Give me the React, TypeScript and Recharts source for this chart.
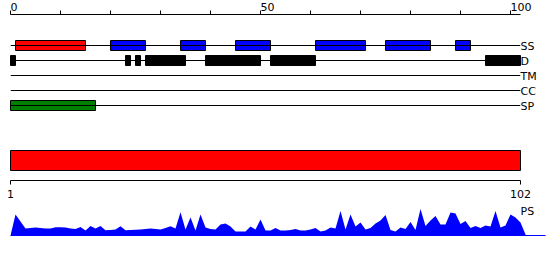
import React from 'react';
import {
  ComposedChart,
  AreaChart,
  Area,
  Scatter,
  XAxis,
  YAxis,
  ReferenceArea,
  ReferenceLine,
} from 'recharts';

// track names shown at the right end of each row
const TRACKS = ['SS', 'D', 'TM', 'CC', 'SP'];

// residue scale
const SEQ_LEN = 102;
const POS_TICKS = [0, 10, 20, 30, 40, 50, 60, 70, 80, 90, 100];
const SEQ_TICKS = [1, 102];

// segments as [start, end] in residues
const SS_HELIX = [[1, 15]];
const SS_STRAND = [[20, 27], [34, 39], [45, 52], [61, 71], [75, 84], [89, 92]];
const DISORDER = [[0, 1], [23, 24], [25, 26], [27, 35], [39, 50], [52, 61], [95, 102]];
const SIGNAL = [[0, 17]];
const SEQUENCE = [[0, 102]];

// PS profile, one value per position
const PS_VALUES = [
  0, 21, 14, 7, 7.5, 8, 7.5, 7, 7, 8.3,
  8.3, 8, 7, 6.5, 8.5, 5, 9.5, 7, 9.5, 5.3,
  5.5, 6, 9.3, 5.3, 5.5, 5.7, 6, 6.5, 7, 6.5,
  6, 7.5, 9.3, 7, 23.3, 6, 18, 5, 21, 8,
  6.5, 6, 11, 12, 9, 4, 4, 4, 9, 6,
  16, 5, 5, 7.5, 5, 5, 5.5, 6.5, 5, 5,
  6, 7.5, 4, 5, 8, 7, 24.5, 6, 21, 9,
  13, 6, 7.5, 12, 15, 20.5, 5.5, 4, 8, 6.5,
  13.5, 5.5, 26.5, 9.5, 15, 19.5, 11, 11, 23, 22,
  11.5, 14.5, 7.5, 9.5, 7.5, 10, 9, 24.5, 8, 10,
  21, 18, 13, 1,
];

const FONT = 'DejaVu Sans';
const psData = PS_VALUES.map((v, i) => ({ pos: i, ps: v }));
const SEQ_ROW = 23 / 3;

const TopTick = ({ x, y, payload }: any) =>
  payload.value % 50 === 0 ? (
    <text x={x} y={y} textAnchor="start" fontSize={11} fontFamily={FONT} fill="#000">
      {payload.value}
    </text>
  ) : (
    <g />
  );

const BottomTick = ({ x, y, payload }: any) => (
  <text x={x} y={y + 13.5} textAnchor="middle" fontSize={11} fontFamily={FONT} fill="#000">
    {payload.value}
  </text>
);

const RowTick = ({ x, y, payload }: any) => (
  <text x={x} y={y + 4.5} textAnchor="start" fontSize={11} fontFamily={FONT} fill="#000">
    {TRACKS[payload.value]}
  </text>
);

const NoShape = () => <g />;
const H = 1 / 3; // half box height in row units

function segs(list: number[][], row: number, fill: string, key: string, h = H) {
  return list.map(([a, b], i) => (
    <ReferenceArea
      key={`${key}-${i}`}
      xAxisId="top"
      yAxisId="rows"
      x1={a}
      x2={b}
      y1={row - h}
      y2={row + h}
      fill={fill}
      fillOpacity={1}
      stroke="#000"
      strokeWidth={1}
      ifOverflow="visible"
    />
  ));
}

export default function App() {
  return (
    <div style={{ position: 'absolute', left: 0, top: 0, width: 550, height: 260, background: '#fff' }}>
      <div style={{ position: 'absolute', left: 0, top: 0 }}>
        <ComposedChart width={550} height={200} margin={{ top: 0, right: 0, bottom: 0, left: 10.5 }}>
          <XAxis
            xAxisId="top"
            dataKey="x"
            orientation="top"
            type="number"
            domain={[0, SEQ_LEN]}
            ticks={POS_TICKS}
            interval={0}
            height={14.5}
            tickSize={4}
            tickMargin={0}
            tick={TopTick}
            stroke="#000"
            allowDataOverflow
          />
          <XAxis
            xAxisId="bot"
            dataKey="x"
            orientation="bottom"
            type="number"
            domain={[1, SEQ_LEN]}
            ticks={SEQ_TICKS}
            interval={0}
            height={19.5}
            tickSize={4}
            tickMargin={0}
            tick={BottomTick}
            stroke="#000"
            allowDataOverflow
          />
          <YAxis
            yAxisId="rows"
            dataKey="y"
            orientation="right"
            type="number"
            domain={[-31 / 15, 9]}
            reversed
            ticks={[0, 1, 2, 3, 4]}
            interval={0}
            width={29.5}
            axisLine={false}
            tickLine={false}
            tickSize={0}
            tickMargin={0}
            tick={RowTick}
            allowDataOverflow
          />
          {TRACKS.map((t, i) => (
            <Scatter
              key={t}
              xAxisId="top"
              yAxisId="rows"
              data={[{ x: 0, y: i }, { x: SEQ_LEN, y: i }]}
              line={{ stroke: '#000', strokeWidth: 1 }}
              shape={NoShape}
              isAnimationActive={false}
            />
          ))}
          <Scatter
            xAxisId="bot"
            yAxisId="rows"
            data={[{ x: 1, y: SEQ_ROW }, { x: SEQ_LEN, y: SEQ_ROW }]}
            shape={NoShape}
            isAnimationActive={false}
          />
          {segs(SS_HELIX, 0, '#ff0000', 'h')}
          {segs(SS_STRAND, 0, '#0000ff', 's')}
          {segs(DISORDER, 1, '#000000', 'd')}
          {segs(SIGNAL, 4, '#008000', 'sp')}
          {segs(SEQUENCE, SEQ_ROW, '#ff0000', 'seq', 2 / 3)}
        </ComposedChart>
      </div>
      <div style={{ position: 'absolute', left: 0, top: 200 }}>
        <AreaChart width={550} height={40} data={psData} margin={{ top: 5.5, right: 4.5, bottom: 4.5, left: 10.5 }}>
          <XAxis dataKey="pos" type="number" domain={[0, 107]} hide allowDataOverflow />
          <YAxis type="number" domain={[0, 30]} hide allowDataOverflow />
          <Area
            type="linear"
            dataKey="ps"
            fill="#0000ff"
            fillOpacity={1}
            stroke="none"
            dot={false}
            activeDot={false}
            isAnimationActive={false}
          />
          <ReferenceLine y={0} stroke="#0000ff" />
        </AreaChart>
      </div>
      <svg width={550} height={260} style={{ position: 'absolute', left: 0, top: 0, pointerEvents: 'none' }}>
        <text x={520.5} y={215} fontSize={11} fontFamily={FONT} fill="#000">
          PS
        </text>
      </svg>
    </div>
  );
}
